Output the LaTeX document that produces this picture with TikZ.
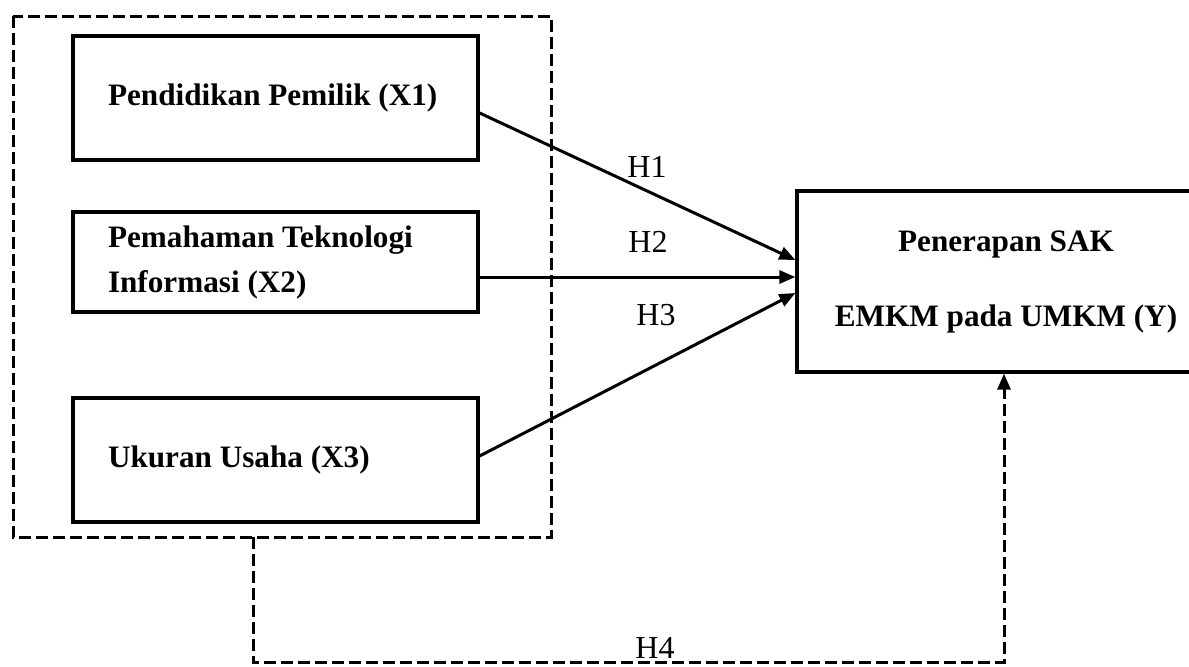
\documentclass[tikz,border=0pt]{standalone}
\usepackage{fontspec}
\setmainfont{Liberation Serif}
\usetikzlibrary{arrows.meta}
\definecolor{umkInk}{HTML}{000000}
\tikzset{
  umk box/.style={draw=umkInk, line width=1.6pt, rectangle, minimum width=202.5pt, text width=167.5pt, align=flush left, inner sep=0pt, font=\fontsize{15.6}{22.5}\selectfont\bfseries, text=umkInk},
  umk target/.style={draw=umkInk, line width=1.6pt, rectangle, minimum width=209pt, minimum height=90.5pt, align=center, inner sep=0pt, font=\fontsize{15.6}{37.5}\selectfont\bfseries, text=umkInk},
  umk frame/.style={draw=umkInk, line width=1.5pt, dash pattern=on 6pt off 2.5pt},
  umk arrow/.style={draw=umkInk, line width=1.5pt, -{Triangle[length=8pt,width=6.5pt]}},
  umk label/.style={font=\fontsize{16}{19}\selectfont, text=umkInk, inner sep=0pt},
}

\begin{document}
\begin{tikzpicture}[x=0.5pt,y=-0.5pt]
  \useasboundingbox (0,0) rectangle (1189,666);
  \clip (0,0) rectangle (1189,666);
  % independent variables
  \draw[umk frame] (13,16) rectangle (551,537);
  \node[umk box,minimum height=62pt] (x1) at (275.5,98) {Pendidikan Pemilik (X1)};
  \node[umk box,minimum height=50pt] (x2) at (275.5,262) {Pemahaman Teknologi\\Informasi (X2)};
  \node[umk box,minimum height=62pt] (x3) at (275.5,460) {Ukuran Usaha (X3)};
  % dependent variable
  \node[umk target] (y) at (1006,281.5) {Penerapan SAK\\EMKM pada UMKM (Y)};
  % hypotheses
  \draw[umk arrow] ([yshift=-7.5pt]x1.east) -- ([yshift=10.75pt]y.west);
  \draw[umk arrow] ([yshift=-7.5pt]x2.east) -- ([yshift=2.25pt]y.west);
  \draw[umk arrow] ([yshift=2pt]x3.east) -- ([yshift=-5.75pt]y.west);
  \node[umk label] (h1) at (647,167) {H1};
  \node[umk label] (h2) at (648,242) {H2};
  \node[umk label] (h3) at (656,315) {H3};
  % simultaneous
  \coordinate (h4start) at (253,537);
  \draw[umk arrow,dash pattern=on 6pt off 2.5pt] (h4start) -- (253,662) -| ([xshift=-1pt]y.south);
  \node[umk label] (h4) at (655,648) {H4};
\end{tikzpicture}
\end{document}
